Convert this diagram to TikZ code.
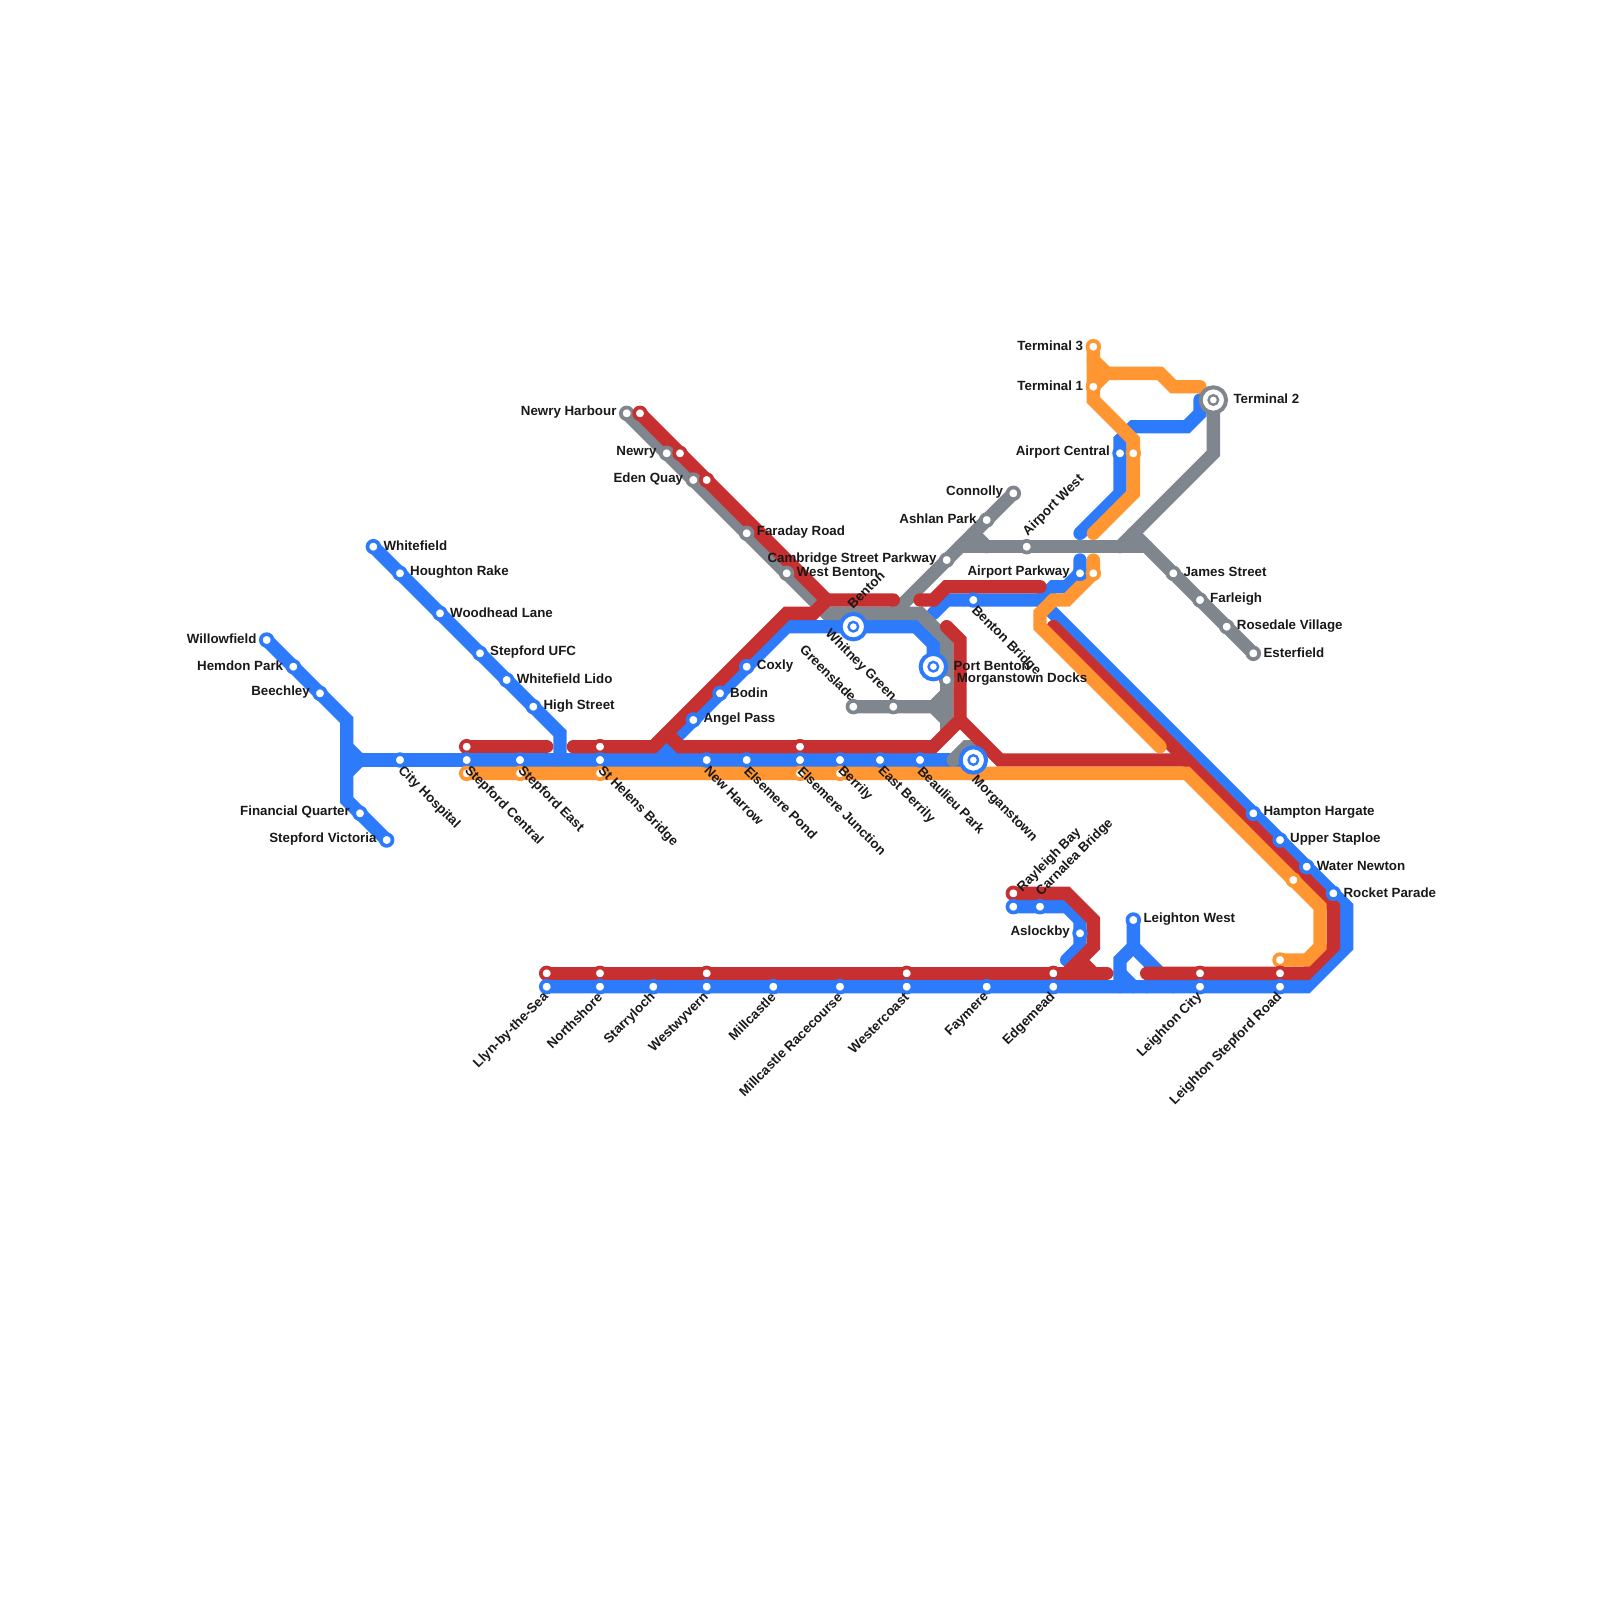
\documentclass[tikz,border=0pt]{standalone}
\usepackage{fontspec}
\setmainfont{Liberation Sans}
\definecolor{lineblue}{RGB}{45,123,250}
\definecolor{linered}{RGB}{199,48,48}
\definecolor{lineorange}{RGB}{255,150,50}
\definecolor{linegrey}{RGB}{128,134,141}
\tikzset{
  track/.style={line width=13.33pt,line cap=round,line join=miter},
  blueline/.style={track,lineblue},
  redline/.style={track,linered},
  orangeline/.style={track,lineorange},
  greyline/.style={track,linegrey},
  stop/.style={circle,fill=white,line width=3.7pt,minimum size=11.7pt,inner sep=0pt,outer sep=0pt},
  hubring/.style={circle,fill=white,line width=4pt,minimum size=25.4pt,inner sep=0pt,outer sep=0pt},
  hubstop/.style={circle,fill=white,line width=2.4pt,minimum size=9.6pt,inner sep=0pt,outer sep=0pt},
  txt/.style={font=\fontsize{13.33}{15}\selectfont\bfseries,inner sep=0pt,text=black!90},
  txtE/.style={txt,anchor=west,xshift=10pt,yshift=1pt},
  txtW/.style={txt,anchor=east,xshift=-10pt,yshift=1pt},
  txtSE/.style={txt,anchor=west,rotate=-45,xshift=6pt,yshift=-6pt},
  txtSW/.style={txt,anchor=east,rotate=45,xshift=-6pt,yshift=-6pt},
  txtNE/.style={txt,anchor=west,rotate=45,xshift=8pt,yshift=10pt},
  txtNW/.style={txt,anchor=east,rotate=-45,xshift=-5pt,yshift=6pt}
}
\def\stationlist{
  willowfield/20/48/lineblue,hemdonpark/22/50/lineblue,beechley/24/52/lineblue,
  financialquarter/27/61/lineblue,stepfordvictoria/29/63/lineblue,cityhospital/30/57/lineblue,
  whitefield/28/41/lineblue,houghtonrake/30/43/lineblue,woodheadlane/33/46/lineblue,
  stepfordufc/36/49/lineblue,whitefieldlido/38/51/lineblue,highstreet/40/53/lineblue,
  stepfordcentralr/35/56/linered,stepfordcentral/35/57/lineblue,stepfordcentralo/35/58/lineorange,
  stepfordeast/39/57/lineblue,stepfordeasto/39/58/lineorange,
  sthelensr/45/56/linered,sthelens/45/57/lineblue,sthelenso/45/58/lineorange,
  newharrow/53/57/lineblue,elsemerepond/56/57/lineblue,
  elsemerejunctionr/60/56/linered,elsemerejunction/60/57/lineblue,elsemerejunctiono/60/58/lineorange,
  berrily/63/57/lineblue,berrilyo/63/58/lineorange,eastberrily/66/57/lineblue,beaulieupark/69/57/lineblue,
  angelpass/52/54/lineblue,bodin/54/52/lineblue,coxly/56/50/lineblue,
  newryharbour/47/31/linegrey,newryharbourr/48/31/linered,newry/50/34/linegrey,newryr/51/34/linered,
  edenquay/52/36/linegrey,edenquayr/53/36/linered,faradayroad/56/40/linegrey,westbenton/59/43/linegrey,
  greenslade/64/53/linegrey,whitneygreen/67/53/linegrey,morganstowndocks/71/51/linegrey,
  connolly/76/37/linegrey,ashlanpark/74/39/linegrey,cambridgestreet/71/42/linegrey,airportwest/77/41/linegrey,
  jamesstreet/88/43/linegrey,farleigh/90/45/linegrey,rosedale/92/47/linegrey,esterfield/94/49/linegrey,
  bentonbridge/73/45/lineblue,airportparkway/81/43/lineblue,airportparkwayo/82/43/lineorange,
  airportcentral/84/34/lineblue,airportcentralo/85/34/lineorange,terminalthree/82/26/lineorange,terminalone/82/29/lineorange,
  hamptonhargate/94/61/lineblue,upperstaploe/96/63/lineblue,waternewton/98/65/lineblue,rocketparade/100/67/lineblue,
  waternewtono/97/66/lineorange,raleighbay/76/67/linered,raleighbayb/76/68/lineblue,carnalea/78/68/lineblue,
  aslockby/81/70/lineblue,leightonwest/85/69/lineblue,
  llynr/41/73/linered,llyn/41/74/lineblue,northshorer/45/73/linered,northshore/45/74/lineblue,starryloch/49/74/lineblue,
  westwyvernr/53/73/linered,westwyvern/53/74/lineblue,millcastle/58/74/lineblue,racecourse/63/74/lineblue,
  westercoastr/68/73/linered,westercoast/68/74/lineblue,faymere/74/74/lineblue,edgemeadr/79/73/linered,edgemead/79/74/lineblue,
  leightoncityr/90/73/linered,leightoncity/90/74/lineblue,
  stepfordroado/96/72/lineorange,stepfordroadr/96/73/linered,stepfordroad/96/74/lineblue}
\begin{document}
\begin{tikzpicture}[x=13.3333pt,y=-13.3333pt]
\useasboundingbox (0,0) rectangle (120,120);
\foreach \nm/\cx/\cy/\cc in \stationlist {\coordinate (\nm) at (\cx,\cy);}
\coordinate (benton) at (64,47);
\coordinate (portbenton) at (70,50);
\coordinate (morganstown) at (73,57);
\coordinate (terminaltwo) at (91,30);

\draw[blueline] (willowfield) -- (26,54) -- (26,60) -- (stepfordvictoria);
\draw[blueline] (26,56) -- (27,57) -- (26,58);
\draw[blueline] (27,57) -- (morganstown);
\draw[blueline] (whitefield) -- (42,55) -- (42,57);
\draw[blueline] (49,57) -- (50,56) -- (51,57);
\draw[blueline] (50,56) -- (59,47) -- (68.7,47) -- (70,48.3) -- (portbenton);
\draw[blueline] (70,46) -- (71,45) -- (78,45) -- (79,44) -- (80,44) -- (81,43) -- (81,42);
\draw[blueline] (78,45) -- (101,68) -- (101,71) -- (98,74) -- (llyn);
\draw[blueline] (raleighbayb) -- (80,68) -- (81,69) -- (81,71) -- (80,72);
\draw[blueline] (leightonwest) -- (85,71) -- (84,72) -- (84,74);
\draw[blueline] (85,71) -- (88,74);
\draw[blueline] (84,73) -- (85,74);
\draw[blueline] (87,73) -- (86,74);
\draw[blueline] (81,40) -- (84,37) -- (84,33) -- (85,32) -- (89,32) -- (90,31) -- (90,30);

\draw[greyline] (newryharbour) -- (62,46) -- (69,46) -- (71,48) -- (71,55);
\draw[greyline] (greenslade) -- (70,53) -- (71,52);
\draw[greyline] (70,53) -- (71,54);
\draw[greyline] (connolly) -- (67,46);
\draw[greyline] (72,41) -- (86,41);
\draw[greyline] (73,40) -- (74,41);
\draw[greyline] (esterfield) -- (85,40);
\draw[greyline] (terminaltwo) -- (91,34) -- (84,41);
\draw[greyline] (71.5,57) -- (72.5,56) -- (73,56) -- (morganstown);

\draw[redline] (stepfordcentralr) -- (41,56);
\draw[redline] (43,56) -- (49,56) -- (59,46) -- (61,46) -- (62,45) -- (67,45);
\draw[redline] (newryharbourr) -- (62,45);
\draw[redline] (50,55) -- (51,56) -- (70,56) -- (72,54) -- (72,48) -- (71,47);
\draw[redline] (72,54) -- (75,57) -- (89,57);
\draw[redline] (69,45) -- (70,45) -- (71,44) -- (78,44);
\draw[redline] (79,47) -- (100,68) -- (100,71) -- (98,73) -- (86,73);
\draw[redline] (llynr) -- (83,73);
\draw[redline] (raleighbay) -- (80,67) -- (82,69) -- (82,71) -- (80,73);
\draw[redline] (81,72) -- (82,73);

\draw[orangeline] (stepfordcentralo) -- (89,58) -- (99,68) -- (99,71) -- (98,72) -- (stepfordroado);
\draw[orangeline] (82,42) -- (airportparkwayo) -- (80,45) -- (79,45) -- (78,46) -- (78,47) -- (87,56);
\draw[orangeline] (terminalthree) -- (82,30) -- (85,33) -- (85,37) -- (82,40);
\draw[orangeline] (82,27) -- (83,28) -- (terminalone);
\draw[orangeline] (83,28) -- (87,28) -- (88,29) -- (90,29);

\foreach \nm/\cx/\cy/\cc in \stationlist {\node[stop,draw=\cc] (\nm-stop) at (\nm) {};}
\foreach \nm/\cc in {benton/lineblue,portbenton/lineblue,morganstown/lineblue,terminaltwo/linegrey} {
  \node[hubring,draw=\cc] (\nm-ring) at (\nm) {};
  \node[hubstop,draw=\cc] (\nm-stop) at (\nm) {};
}

\foreach \nm/\txt in {whitefield/Whitefield,houghtonrake/Houghton Rake,woodheadlane/Woodhead Lane,stepfordufc/Stepford UFC,
  whitefieldlido/Whitefield Lido,highstreet/High Street,coxly/Coxly,bodin/Bodin,angelpass/Angel Pass,faradayroad/Faraday Road,
  westbenton/West Benton,morganstowndocks/Morganstown Docks,jamesstreet/James Street,farleigh/Farleigh,rosedale/Rosedale Village,
  esterfield/Esterfield,hamptonhargate/Hampton Hargate,upperstaploe/Upper Staploe,waternewton/Water Newton,
  rocketparade/Rocket Parade,leightonwest/Leighton West}
  {\node[txtE] (\nm-txt) at (\nm) {\txt};}
\node[txtE,xshift=10pt] (portbenton-txt) at (portbenton) {Port Benton};
\node[txtE,xshift=10pt] (terminaltwo-txt) at (terminaltwo) {Terminal 2};

\foreach \nm/\txt in {willowfield/Willowfield,hemdonpark/Hemdon Park,beechley/Beechley,financialquarter/Financial Quarter,
  stepfordvictoria/Stepford Victoria,newryharbour/Newry Harbour,newry/Newry,edenquay/Eden Quay,connolly/Connolly,
  ashlanpark/Ashlan Park,cambridgestreet/Cambridge Street Parkway,airportparkway/Airport Parkway,airportcentral/Airport Central,
  terminalthree/Terminal 3,terminalone/Terminal 1,aslockby/Aslockby}
  {\node[txtW] (\nm-txt) at (\nm) {\txt};}

\foreach \nm/\txt in {cityhospital/City Hospital,stepfordcentral/Stepford Central,stepfordeast/Stepford East,sthelens/St Helens Bridge,
  newharrow/New Harrow,elsemerepond/Elsemere Pond,elsemerejunction/Elsemere Junction,berrily/Berrily,eastberrily/East Berrily,
  beaulieupark/Beaulieu Park,bentonbridge/Benton Bridge}
  {\node[txtSE] (\nm-txt) at (\nm) {\txt};}
\node[txtSE,xshift=7pt,yshift=-7pt] (morganstown-txt) at (morganstown) {Morganstown};

\foreach \nm/\txt in {llyn/Llyn-by-the-Sea,northshore/Northshore,starryloch/Starryloch,westwyvern/Westwyvern,millcastle/Millcastle,
  racecourse/Millcastle Racecourse,westercoast/Westercoast,faymere/Faymere,edgemead/Edgemead,leightoncity/Leighton City,
  stepfordroad/Leighton Stepford Road}
  {\node[txtSW] (\nm-txt) at (\nm) {\txt};}

\foreach \nm/\txt in {airportwest/Airport West,carnalea/Carnalea Bridge}
  {\node[txtNE] (\nm-txt) at (\nm) {\txt};}
\node[txtNE,yshift=-12pt,xshift=-1pt] (raleighbay-txt) at (raleighbay) {Rayleigh Bay};
\node[txtNE,xshift=4pt,yshift=7pt] (benton-txt) at (benton) {Benton};

\foreach \nm/\txt in {greenslade/Greenslade,whitneygreen/Whitney Green}
  {\node[txtNW] (\nm-txt) at (\nm) {\txt};}
\end{tikzpicture}
\end{document}
